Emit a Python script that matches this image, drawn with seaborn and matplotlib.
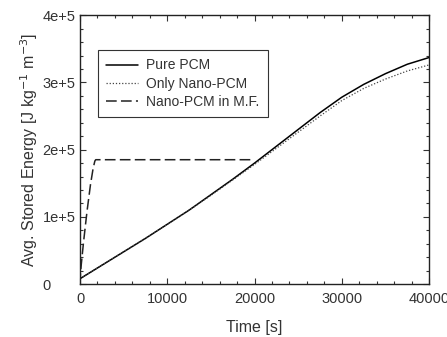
import numpy as np
import pandas as pd
import matplotlib
matplotlib.use("Agg")
import matplotlib.pyplot as plt
from matplotlib.ticker import MultipleLocator, FuncFormatter
import seaborn as sns

# values
t_pcm = [0, 2500, 5000, 7500, 10000, 12500, 15000, 17500, 20000, 22500, 25000,
         27500, 30000, 32500, 35000, 37500, 40000]
pure_pcm = [8000, 28000, 48000, 68000, 89000, 110000, 133000, 156000, 180000, 205000,
            230000, 255000, 278000, 297000, 313000, 327000, 337000]
only_nano = [8000, 28000, 48000, 68000, 89000, 110000, 132000, 155000, 178000, 202000,
             226000, 250000, 273000, 291000, 305000, 317000, 326000]

t_mf = [0, 50, 150, 400, 800, 1200, 1500, 1700, 1800, 19700]
nano_mf = [0, 15000, 30000, 62000, 108000, 148000, 172000, 183000, 185000, 185000]

sns.set_theme(style="ticks")
plt.rcParams['font.family'] = ['Liberation Sans', 'DejaVu Sans']
txt = '#333333'

fig = plt.figure(figsize=(4.47, 3.37), dpi=100)
ax = fig.add_axes([0.179, 0.157, 0.781, 0.798])

df1 = pd.DataFrame({'t': t_pcm, 'E': pure_pcm})
df2 = pd.DataFrame({'t': t_pcm, 'E': only_nano})
df3 = pd.DataFrame({'t': t_mf, 'E': nano_mf})

sns.lineplot(data=df1, x='t', y='E', ax=ax, color='black', lw=1.1, label='Pure PCM')
sns.lineplot(data=df2, x='t', y='E', ax=ax, color='#444444', lw=0.9, ls=(0, (1, 1.5)),
             label='Only Nano-PCM')
sns.lineplot(data=df3, x='t', y='E', ax=ax, color='#222222', lw=1.1, ls=(0, (7, 2.8)),
             label='Nano-PCM in M.F.')

ax.set_xlim(0, 40000)
ax.set_ylim(0, 400000)
ax.xaxis.set_major_locator(MultipleLocator(10000))
ax.xaxis.set_minor_locator(MultipleLocator(2000))
ax.yaxis.set_major_locator(MultipleLocator(100000))
ax.yaxis.set_minor_locator(MultipleLocator(20000))
ax.yaxis.set_major_formatter(FuncFormatter(lambda v, p: '0' if v == 0 else f'{int(v/1e5)}e+5'))
ax.tick_params(which='both', direction='in', top=True, right=True, colors='#333333',
               labelcolor=txt, labelsize=10.5, width=0.8)
ax.tick_params(which='major', length=4)
ax.tick_params(which='minor', length=2.5)
ax.tick_params(axis='y', which='major', pad=27)
for lab in ax.get_yticklabels():
    lab.set_horizontalalignment('left')
ax.tick_params(axis='x', which='major', pad=6)
for s in ax.spines.values():
    s.set_linewidth(1.0)
    s.set_color('#222222')

ax.set_xlabel('Time [s]', fontsize=11.5, color=txt, labelpad=10)
ax.set_ylabel('Avg. Stored Energy [J kg$^{-1}$ m$^{-3}$]', fontsize=11.5, color=txt, labelpad=2)

leg = ax.legend(loc='upper left', bbox_to_anchor=(0.052, 0.87), fontsize=10,
                frameon=True, fancybox=False, framealpha=1, edgecolor='#333333',
                handlelength=2.3, handletextpad=0.55, borderpad=0.6, labelspacing=0.3,
                borderaxespad=0)
leg.get_frame().set_linewidth(0.8)
for t in leg.get_texts():
    t.set_color(txt)

fig.savefig('out.png', dpi=100)
